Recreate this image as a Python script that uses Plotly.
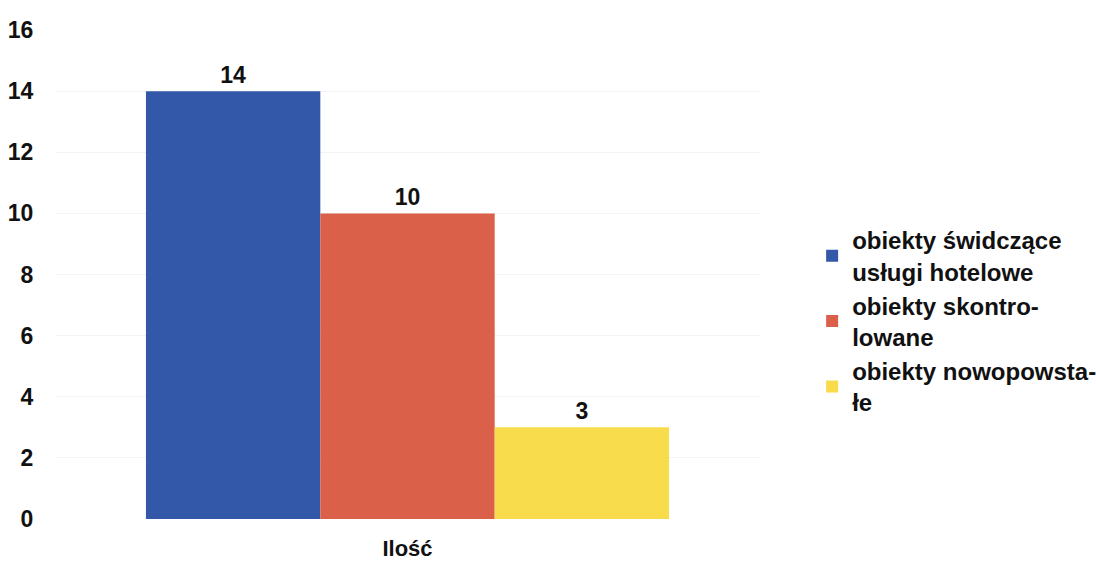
import plotly.graph_objects as go

category = ["Ilość"]
series_names = [
    "obiekty świdczące<br>usługi hotelowe",
    "obiekty skontro-<br>lowane",
    "obiekty nowopowsta-<br>łe",
]
series_values = [14, 10, 3]
series_colors = ["#3358a9", "#db604a", "#f8dc4c"]
y_ticks = [0, 2, 4, 6, 8, 10, 12, 14, 16]

FONT = "Liberation Sans, Arial, sans-serif"

fig = go.Figure()
for i, (name, val, col) in enumerate(zip(series_names, series_values, series_colors)):
    fig.add_trace(go.Bar(
        x=category, y=[val], name=name, legendgroup=f"g{i}",
        marker=dict(color=col, line=dict(width=0)),
        text=[f"<b>{val}</b>"], textposition="outside",
        textfont=dict(size=23, color="#111111", family=FONT),
        cliponaxis=False,
    ))

fig.update_layout(
    width=1096, height=564,
    margin=dict(l=55, r=336, t=30, b=45),
    paper_bgcolor="white", plot_bgcolor="white",
    barmode="group", bargap=0.258, bargroupgap=0,
    font=dict(family=FONT, size=23, color="#111111"),
    showlegend=True,
    legend=dict(
        xref="container", yref="container",
        x=0.741, xanchor="left", y=0.43, yanchor="middle",
        font=dict(size=24, color="#111111", family=FONT, weight="bold"),
        traceorder="normal", tracegroupgap=6,
        bgcolor="rgba(0,0,0,0)",
    ),
    xaxis=dict(
        showgrid=False, zeroline=False, showline=False, automargin=False,
        ticks="outside", ticklen=10, tickcolor="rgba(0,0,0,0)",
        tickfont=dict(size=22, family=FONT, color="#111111", weight="bold"),
    ),
    yaxis=dict(
        range=[0, 16], tickvals=y_ticks, automargin=False,
        showgrid=True, gridcolor="#f3f3f3", gridwidth=1,
        zeroline=False, showline=False,
        ticks="outside", ticklen=16, tickcolor="rgba(0,0,0,0)",
        tickfont=dict(size=23, family=FONT, color="#111111", weight="bold"),
    ),
)

fig.write_html("out.html")
